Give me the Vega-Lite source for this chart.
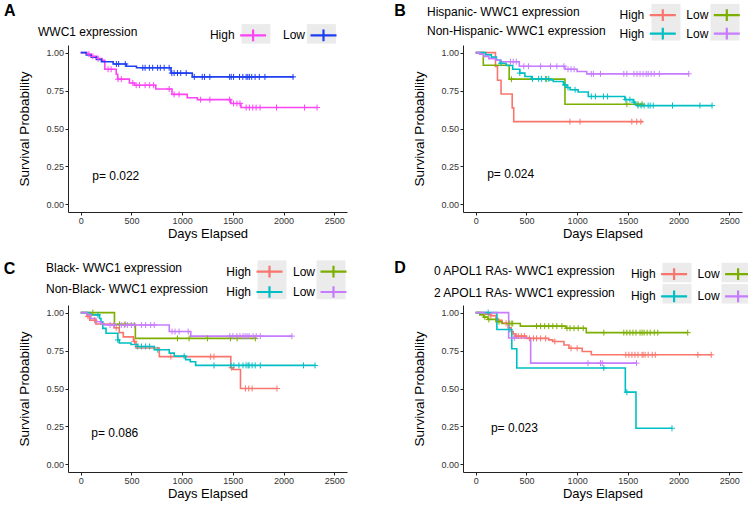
{
"$schema":"https://vega.github.io/schema/vega-lite/v6.json",
"padding":{"left":3,"top":3,"right":0,"bottom":0},
"background":"white",
"config":{
 "font":"Liberation Sans",
 "view":{"stroke":null},
 "axis":{"grid":false,"labelFontSize":9,"labelColor":"#333333","titleFontSize":13,"titleFontWeight":"normal","titleColor":"#000000","domainColor":"#222222","tickColor":"#222222","tickSize":3,"labelPadding":1.5},
 "axisX":{"titlePadding":2,"format":"d"},
 "axisY":{"titlePadding":14.5,"titleFontSize":13.5},
 "legend":{"orient":"none","direction":"horizontal","columns":2,"titleOrient":"left","titleAnchor":"start","titleBaseline":"top","titleFontSize":12,"titleFontWeight":"normal","titleColor":"#000000","titleLimit":400,"labelFontSize":12,"labelColor":"#000000","labelAlign":"right","labelOffset":-26.5,"symbolOffset":38,"symbolType":"M-2,0H2M0,-0.9V0.9","symbolSize":169,"symbolStrokeWidth":2.2,"padding":0},
 "title":{"fontSize":16,"fontWeight":"bold","anchor":"start","frame":"group","baseline":"alphabetic","color":"#000000"}
},
"datasets":{
"curves":[
{"p":"A","g":"High","t":0,"s":1},{"p":"A","g":"High","t":60,"s":0.99},{"p":"A","g":"High","t":100,"s":0.975},{"p":"A","g":"High","t":160,"s":0.96},{"p":"A","g":"High","t":210,"s":0.95},{"p":"A","g":"High","t":238,"s":0.89},{"p":"A","g":"High","t":350,"s":0.857},{"p":"A","g":"High","t":365,"s":0.825},{"p":"A","g":"High","t":480,"s":0.8},{"p":"A","g":"High","t":530,"s":0.785},{"p":"A","g":"High","t":740,"s":0.76},{"p":"A","g":"High","t":900,"s":0.725},{"p":"A","g":"High","t":1050,"s":0.703},{"p":"A","g":"High","t":1150,"s":0.69},{"p":"A","g":"High","t":1480,"s":0.665},{"p":"A","g":"High","t":1580,"s":0.638},{"p":"A","g":"High","t":2330,"s":0.638},
{"p":"A","g":"Low","t":0,"s":1},{"p":"A","g":"Low","t":55,"s":0.985},{"p":"A","g":"Low","t":105,"s":0.97},{"p":"A","g":"Low","t":155,"s":0.955},{"p":"A","g":"Low","t":205,"s":0.94},{"p":"A","g":"Low","t":320,"s":0.925},{"p":"A","g":"Low","t":450,"s":0.91},{"p":"A","g":"Low","t":550,"s":0.9},{"p":"A","g":"Low","t":890,"s":0.865},{"p":"A","g":"Low","t":1100,"s":0.84},{"p":"A","g":"Low","t":2100,"s":0.84},
{"p":"B","g":"Hispanic High","t":0,"s":1},{"p":"B","g":"Hispanic High","t":195,"s":0.909},{"p":"B","g":"Hispanic High","t":215,"s":0.818},{"p":"B","g":"Hispanic High","t":250,"s":0.727},{"p":"B","g":"Hispanic High","t":360,"s":0.636},{"p":"B","g":"Hispanic High","t":375,"s":0.545},{"p":"B","g":"Hispanic High","t":1650,"s":0.545},
{"p":"B","g":"Hispanic Low","t":0,"s":1},{"p":"B","g":"Hispanic Low","t":75,"s":0.917},{"p":"B","g":"Hispanic Low","t":330,"s":0.825},{"p":"B","g":"Hispanic Low","t":880,"s":0.66},{"p":"B","g":"Hispanic Low","t":1650,"s":0.66},
{"p":"B","g":"Non-Hispanic High","t":0,"s":1},{"p":"B","g":"Non-Hispanic High","t":100,"s":0.985},{"p":"B","g":"Non-Hispanic High","t":155,"s":0.97},{"p":"B","g":"Non-Hispanic High","t":205,"s":0.951},{"p":"B","g":"Non-Hispanic High","t":240,"s":0.93},{"p":"B","g":"Non-Hispanic High","t":300,"s":0.915},{"p":"B","g":"Non-Hispanic High","t":365,"s":0.89},{"p":"B","g":"Non-Hispanic High","t":435,"s":0.865},{"p":"B","g":"Non-Hispanic High","t":485,"s":0.843},{"p":"B","g":"Non-Hispanic High","t":550,"s":0.827},{"p":"B","g":"Non-Hispanic High","t":730,"s":0.82},{"p":"B","g":"Non-Hispanic High","t":765,"s":0.81},{"p":"B","g":"Non-Hispanic High","t":865,"s":0.787},{"p":"B","g":"Non-Hispanic High","t":900,"s":0.77},{"p":"B","g":"Non-Hispanic High","t":930,"s":0.755},{"p":"B","g":"Non-Hispanic High","t":1010,"s":0.74},{"p":"B","g":"Non-Hispanic High","t":1110,"s":0.711},{"p":"B","g":"Non-Hispanic High","t":1470,"s":0.69},{"p":"B","g":"Non-Hispanic High","t":1555,"s":0.674},{"p":"B","g":"Non-Hispanic High","t":1570,"s":0.66},{"p":"B","g":"Non-Hispanic High","t":1590,"s":0.651},{"p":"B","g":"Non-Hispanic High","t":2330,"s":0.651},
{"p":"B","g":"Non-Hispanic Low","t":0,"s":1},{"p":"B","g":"Non-Hispanic Low","t":40,"s":0.99},{"p":"B","g":"Non-Hispanic Low","t":80,"s":0.975},{"p":"B","g":"Non-Hispanic Low","t":130,"s":0.96},{"p":"B","g":"Non-Hispanic Low","t":200,"s":0.95},{"p":"B","g":"Non-Hispanic Low","t":250,"s":0.94},{"p":"B","g":"Non-Hispanic Low","t":430,"s":0.91},{"p":"B","g":"Non-Hispanic Low","t":880,"s":0.89},{"p":"B","g":"Non-Hispanic Low","t":1000,"s":0.875},{"p":"B","g":"Non-Hispanic Low","t":1095,"s":0.86},{"p":"B","g":"Non-Hispanic Low","t":2100,"s":0.86},
{"p":"C","g":"Black High","t":0,"s":1},{"p":"C","g":"Black High","t":60,"s":0.975},{"p":"C","g":"Black High","t":90,"s":0.95},{"p":"C","g":"Black High","t":150,"s":0.925},{"p":"C","g":"Black High","t":330,"s":0.9},{"p":"C","g":"Black High","t":380,"s":0.868},{"p":"C","g":"Black High","t":420,"s":0.84},{"p":"C","g":"Black High","t":520,"s":0.81},{"p":"C","g":"Black High","t":545,"s":0.767},{"p":"C","g":"Black High","t":775,"s":0.71},{"p":"C","g":"Black High","t":1480,"s":0.637},{"p":"C","g":"Black High","t":1500,"s":0.625},{"p":"C","g":"Black High","t":1575,"s":0.5},{"p":"C","g":"Black High","t":1935,"s":0.5},
{"p":"C","g":"Black Low","t":0,"s":1},{"p":"C","g":"Black Low","t":333,"s":0.923},{"p":"C","g":"Black Low","t":539,"s":0.83},{"p":"C","g":"Black Low","t":1722,"s":0.83},
{"p":"C","g":"Non-Black High","t":0,"s":1},{"p":"C","g":"Non-Black High","t":100,"s":0.985},{"p":"C","g":"Non-Black High","t":186,"s":0.961},{"p":"C","g":"Non-Black High","t":200,"s":0.94},{"p":"C","g":"Non-Black High","t":218,"s":0.896},{"p":"C","g":"Non-Black High","t":250,"s":0.864},{"p":"C","g":"Non-Black High","t":366,"s":0.82},{"p":"C","g":"Non-Black High","t":380,"s":0.8},{"p":"C","g":"Non-Black High","t":496,"s":0.79},{"p":"C","g":"Non-Black High","t":562,"s":0.777},{"p":"C","g":"Non-Black High","t":725,"s":0.755},{"p":"C","g":"Non-Black High","t":873,"s":0.733},{"p":"C","g":"Non-Black High","t":922,"s":0.713},{"p":"C","g":"Non-Black High","t":1035,"s":0.69},{"p":"C","g":"Non-Black High","t":1080,"s":0.676},{"p":"C","g":"Non-Black High","t":1133,"s":0.652},{"p":"C","g":"Non-Black High","t":2310,"s":0.652},
{"p":"C","g":"Non-Black Low","t":0,"s":1},{"p":"C","g":"Non-Black Low","t":60,"s":0.985},{"p":"C","g":"Non-Black Low","t":100,"s":0.961},{"p":"C","g":"Non-Black Low","t":150,"s":0.94},{"p":"C","g":"Non-Black Low","t":200,"s":0.927},{"p":"C","g":"Non-Black Low","t":230,"s":0.918},{"p":"C","g":"Non-Black Low","t":873,"s":0.875},{"p":"C","g":"Non-Black Low","t":1085,"s":0.845},{"p":"C","g":"Non-Black Low","t":2082,"s":0.845},
{"p":"D","g":"0 RAs High","t":0,"s":1},{"p":"D","g":"0 RAs High","t":100,"s":0.99},{"p":"D","g":"0 RAs High","t":150,"s":0.98},{"p":"D","g":"0 RAs High","t":200,"s":0.96},{"p":"D","g":"0 RAs High","t":220,"s":0.95},{"p":"D","g":"0 RAs High","t":260,"s":0.93},{"p":"D","g":"0 RAs High","t":320,"s":0.9},{"p":"D","g":"0 RAs High","t":350,"s":0.875},{"p":"D","g":"0 RAs High","t":370,"s":0.86},{"p":"D","g":"0 RAs High","t":390,"s":0.845},{"p":"D","g":"0 RAs High","t":500,"s":0.83},{"p":"D","g":"0 RAs High","t":720,"s":0.82},{"p":"D","g":"0 RAs High","t":760,"s":0.81},{"p":"D","g":"0 RAs High","t":870,"s":0.787},{"p":"D","g":"0 RAs High","t":920,"s":0.765},{"p":"D","g":"0 RAs High","t":1050,"s":0.744},{"p":"D","g":"0 RAs High","t":1140,"s":0.722},{"p":"D","g":"0 RAs High","t":2322,"s":0.722},
{"p":"D","g":"0 RAs Low","t":0,"s":1},{"p":"D","g":"0 RAs Low","t":40,"s":0.985},{"p":"D","g":"0 RAs Low","t":80,"s":0.97},{"p":"D","g":"0 RAs Low","t":120,"s":0.955},{"p":"D","g":"0 RAs Low","t":200,"s":0.94},{"p":"D","g":"0 RAs Low","t":260,"s":0.928},{"p":"D","g":"0 RAs Low","t":440,"s":0.911},{"p":"D","g":"0 RAs Low","t":890,"s":0.897},{"p":"D","g":"0 RAs Low","t":1090,"s":0.868},{"p":"D","g":"0 RAs Low","t":2090,"s":0.868},
{"p":"D","g":"2 RAs High","t":0,"s":1},{"p":"D","g":"2 RAs High","t":209,"s":0.889},{"p":"D","g":"2 RAs High","t":356,"s":0.762},{"p":"D","g":"2 RAs High","t":405,"s":0.635},{"p":"D","g":"2 RAs High","t":1475,"s":0.476},{"p":"D","g":"2 RAs High","t":1580,"s":0.238},{"p":"D","g":"2 RAs High","t":1935,"s":0.238},
{"p":"D","g":"2 RAs Low","t":0,"s":1},{"p":"D","g":"2 RAs Low","t":325,"s":0.833},{"p":"D","g":"2 RAs Low","t":542,"s":0.667},{"p":"D","g":"2 RAs Low","t":1590,"s":0.667}
],
"censors":[
{"p":"A","g":"High","t":81,"s":0.99},{"p":"A","g":"High","t":120,"s":0.975},{"p":"A","g":"High","t":173,"s":0.96},{"p":"A","g":"High","t":270,"s":0.89},{"p":"A","g":"High","t":300,"s":0.89},{"p":"A","g":"High","t":368,"s":0.825},{"p":"A","g":"High","t":400,"s":0.825},{"p":"A","g":"High","t":514,"s":0.8},{"p":"A","g":"High","t":547,"s":0.785},{"p":"A","g":"High","t":580,"s":0.785},{"p":"A","g":"High","t":635,"s":0.785},{"p":"A","g":"High","t":680,"s":0.785},{"p":"A","g":"High","t":719,"s":0.785},{"p":"A","g":"High","t":872,"s":0.76},{"p":"A","g":"High","t":921,"s":0.725},{"p":"A","g":"High","t":970,"s":0.725},{"p":"A","g":"High","t":1182,"s":0.69},{"p":"A","g":"High","t":1273,"s":0.69},{"p":"A","g":"High","t":1468,"s":0.69},{"p":"A","g":"High","t":1507,"s":0.665},{"p":"A","g":"High","t":1540,"s":0.665},{"p":"A","g":"High","t":1570,"s":0.665},{"p":"A","g":"High","t":1631,"s":0.638},{"p":"A","g":"High","t":1663,"s":0.638},{"p":"A","g":"High","t":1696,"s":0.638},{"p":"A","g":"High","t":1729,"s":0.638},{"p":"A","g":"High","t":1768,"s":0.638},{"p":"A","g":"High","t":1930,"s":0.638},{"p":"A","g":"High","t":2207,"s":0.638},{"p":"A","g":"High","t":2330,"s":0.638},
{"p":"A","g":"Low","t":352,"s":0.925},{"p":"A","g":"Low","t":374,"s":0.925},{"p":"A","g":"Low","t":440,"s":0.925},{"p":"A","g":"Low","t":612,"s":0.9},{"p":"A","g":"Low","t":635,"s":0.9},{"p":"A","g":"Low","t":677,"s":0.9},{"p":"A","g":"Low","t":710,"s":0.9},{"p":"A","g":"Low","t":758,"s":0.9},{"p":"A","g":"Low","t":785,"s":0.9},{"p":"A","g":"Low","t":823,"s":0.9},{"p":"A","g":"Low","t":872,"s":0.9},{"p":"A","g":"Low","t":898,"s":0.865},{"p":"A","g":"Low","t":921,"s":0.865},{"p":"A","g":"Low","t":954,"s":0.865},{"p":"A","g":"Low","t":986,"s":0.865},{"p":"A","g":"Low","t":1040,"s":0.865},{"p":"A","g":"Low","t":1120,"s":0.84},{"p":"A","g":"Low","t":1198,"s":0.84},{"p":"A","g":"Low","t":1221,"s":0.84},{"p":"A","g":"Low","t":1273,"s":0.84},{"p":"A","g":"Low","t":1468,"s":0.84},{"p":"A","g":"Low","t":1484,"s":0.84},{"p":"A","g":"Low","t":1507,"s":0.84},{"p":"A","g":"Low","t":1566,"s":0.84},{"p":"A","g":"Low","t":1598,"s":0.84},{"p":"A","g":"Low","t":1631,"s":0.84},{"p":"A","g":"Low","t":1647,"s":0.84},{"p":"A","g":"Low","t":1663,"s":0.84},{"p":"A","g":"Low","t":1686,"s":0.84},{"p":"A","g":"Low","t":1719,"s":0.84},{"p":"A","g":"Low","t":1761,"s":0.84},{"p":"A","g":"Low","t":1816,"s":0.84},{"p":"A","g":"Low","t":2093,"s":0.84},
{"p":"B","g":"Hispanic High","t":929,"s":0.545},{"p":"B","g":"Hispanic High","t":1028,"s":0.545},{"p":"B","g":"Hispanic High","t":1539,"s":0.545},{"p":"B","g":"Hispanic High","t":1588,"s":0.545},{"p":"B","g":"Hispanic High","t":1628,"s":0.545},
{"p":"B","g":"Hispanic Low","t":352,"s":0.825},{"p":"B","g":"Hispanic Low","t":700,"s":0.825},{"p":"B","g":"Hispanic Low","t":1490,"s":0.66},{"p":"B","g":"Hispanic Low","t":1600,"s":0.66},{"p":"B","g":"Hispanic Low","t":1640,"s":0.66},
{"p":"B","g":"Non-Hispanic High","t":250,"s":0.93},{"p":"B","g":"Non-Hispanic High","t":435,"s":0.865},{"p":"B","g":"Non-Hispanic High","t":560,"s":0.827},{"p":"B","g":"Non-Hispanic High","t":620,"s":0.827},{"p":"B","g":"Non-Hispanic High","t":650,"s":0.827},{"p":"B","g":"Non-Hispanic High","t":690,"s":0.827},{"p":"B","g":"Non-Hispanic High","t":720,"s":0.827},{"p":"B","g":"Non-Hispanic High","t":880,"s":0.787},{"p":"B","g":"Non-Hispanic High","t":910,"s":0.77},{"p":"B","g":"Non-Hispanic High","t":980,"s":0.755},{"p":"B","g":"Non-Hispanic High","t":1140,"s":0.711},{"p":"B","g":"Non-Hispanic High","t":1180,"s":0.711},{"p":"B","g":"Non-Hispanic High","t":1260,"s":0.711},{"p":"B","g":"Non-Hispanic High","t":1300,"s":0.711},{"p":"B","g":"Non-Hispanic High","t":1480,"s":0.69},{"p":"B","g":"Non-Hispanic High","t":1520,"s":0.69},{"p":"B","g":"Non-Hispanic High","t":1560,"s":0.674},{"p":"B","g":"Non-Hispanic High","t":1600,"s":0.651},{"p":"B","g":"Non-Hispanic High","t":1630,"s":0.651},{"p":"B","g":"Non-Hispanic High","t":1660,"s":0.651},{"p":"B","g":"Non-Hispanic High","t":1700,"s":0.651},{"p":"B","g":"Non-Hispanic High","t":1720,"s":0.651},{"p":"B","g":"Non-Hispanic High","t":1750,"s":0.651},{"p":"B","g":"Non-Hispanic High","t":1940,"s":0.651},{"p":"B","g":"Non-Hispanic High","t":2210,"s":0.651},{"p":"B","g":"Non-Hispanic High","t":2330,"s":0.651},
{"p":"B","g":"Non-Hispanic Low","t":343,"s":0.94},{"p":"B","g":"Non-Hispanic Low","t":370,"s":0.94},{"p":"B","g":"Non-Hispanic Low","t":400,"s":0.94},{"p":"B","g":"Non-Hispanic Low","t":474,"s":0.91},{"p":"B","g":"Non-Hispanic Low","t":520,"s":0.91},{"p":"B","g":"Non-Hispanic Low","t":640,"s":0.91},{"p":"B","g":"Non-Hispanic Low","t":738,"s":0.91},{"p":"B","g":"Non-Hispanic Low","t":800,"s":0.91},{"p":"B","g":"Non-Hispanic Low","t":870,"s":0.91},{"p":"B","g":"Non-Hispanic Low","t":910,"s":0.89},{"p":"B","g":"Non-Hispanic Low","t":940,"s":0.89},{"p":"B","g":"Non-Hispanic Low","t":970,"s":0.89},{"p":"B","g":"Non-Hispanic Low","t":1140,"s":0.86},{"p":"B","g":"Non-Hispanic Low","t":1160,"s":0.86},{"p":"B","g":"Non-Hispanic Low","t":1230,"s":0.86},{"p":"B","g":"Non-Hispanic Low","t":1460,"s":0.86},{"p":"B","g":"Non-Hispanic Low","t":1490,"s":0.86},{"p":"B","g":"Non-Hispanic Low","t":1560,"s":0.86},{"p":"B","g":"Non-Hispanic Low","t":1590,"s":0.86},{"p":"B","g":"Non-Hispanic Low","t":1620,"s":0.86},{"p":"B","g":"Non-Hispanic Low","t":1650,"s":0.86},{"p":"B","g":"Non-Hispanic Low","t":1680,"s":0.86},{"p":"B","g":"Non-Hispanic Low","t":1700,"s":0.86},{"p":"B","g":"Non-Hispanic Low","t":1730,"s":0.86},{"p":"B","g":"Non-Hispanic Low","t":1760,"s":0.86},{"p":"B","g":"Non-Hispanic Low","t":1810,"s":0.86},{"p":"B","g":"Non-Hispanic Low","t":2100,"s":0.86},
{"p":"C","g":"Black High","t":72,"s":0.975},{"p":"C","g":"Black High","t":137,"s":0.95},{"p":"C","g":"Black High","t":350,"s":0.9},{"p":"C","g":"Black High","t":530,"s":0.81},{"p":"C","g":"Black High","t":889,"s":0.71},{"p":"C","g":"Black High","t":1281,"s":0.71},{"p":"C","g":"Black High","t":1314,"s":0.71},{"p":"C","g":"Black High","t":1487,"s":0.637},{"p":"C","g":"Black High","t":1624,"s":0.5},{"p":"C","g":"Black High","t":1657,"s":0.5},{"p":"C","g":"Black High","t":1690,"s":0.5},{"p":"C","g":"Black High","t":1935,"s":0.5},
{"p":"C","g":"Black Low","t":120,"s":1},{"p":"C","g":"Black Low","t":382,"s":0.923},{"p":"C","g":"Black Low","t":438,"s":0.923},{"p":"C","g":"Black Low","t":954,"s":0.83},{"p":"C","g":"Black Low","t":1069,"s":0.83},{"p":"C","g":"Black Low","t":1249,"s":0.83},{"p":"C","g":"Black Low","t":1477,"s":0.83},{"p":"C","g":"Black Low","t":1542,"s":0.83},{"p":"C","g":"Black Low","t":1722,"s":0.83},
{"p":"C","g":"Non-Black High","t":170,"s":0.985},{"p":"C","g":"Non-Black High","t":366,"s":0.82},{"p":"C","g":"Non-Black High","t":562,"s":0.777},{"p":"C","g":"Non-Black High","t":600,"s":0.777},{"p":"C","g":"Non-Black High","t":640,"s":0.777},{"p":"C","g":"Non-Black High","t":680,"s":0.777},{"p":"C","g":"Non-Black High","t":760,"s":0.755},{"p":"C","g":"Non-Black High","t":1020,"s":0.713},{"p":"C","g":"Non-Black High","t":1314,"s":0.652},{"p":"C","g":"Non-Black High","t":1480,"s":0.652},{"p":"C","g":"Non-Black High","t":1510,"s":0.652},{"p":"C","g":"Non-Black High","t":1560,"s":0.652},{"p":"C","g":"Non-Black High","t":1600,"s":0.652},{"p":"C","g":"Non-Black High","t":1630,"s":0.652},{"p":"C","g":"Non-Black High","t":1650,"s":0.652},{"p":"C","g":"Non-Black High","t":1660,"s":0.652},{"p":"C","g":"Non-Black High","t":1690,"s":0.652},{"p":"C","g":"Non-Black High","t":1720,"s":0.652},{"p":"C","g":"Non-Black High","t":1771,"s":0.652},{"p":"C","g":"Non-Black High","t":2196,"s":0.652},{"p":"C","g":"Non-Black High","t":2310,"s":0.652},
{"p":"C","g":"Non-Black Low","t":290,"s":0.918},{"p":"C","g":"Non-Black Low","t":330,"s":0.918},{"p":"C","g":"Non-Black Low","t":400,"s":0.918},{"p":"C","g":"Non-Black Low","t":430,"s":0.918},{"p":"C","g":"Non-Black Low","t":460,"s":0.918},{"p":"C","g":"Non-Black Low","t":500,"s":0.918},{"p":"C","g":"Non-Black Low","t":530,"s":0.918},{"p":"C","g":"Non-Black Low","t":600,"s":0.918},{"p":"C","g":"Non-Black Low","t":640,"s":0.918},{"p":"C","g":"Non-Black Low","t":690,"s":0.918},{"p":"C","g":"Non-Black Low","t":725,"s":0.918},{"p":"C","g":"Non-Black Low","t":900,"s":0.875},{"p":"C","g":"Non-Black Low","t":930,"s":0.875},{"p":"C","g":"Non-Black Low","t":970,"s":0.875},{"p":"C","g":"Non-Black Low","t":1060,"s":0.875},{"p":"C","g":"Non-Black Low","t":1470,"s":0.845},{"p":"C","g":"Non-Black Low","t":1500,"s":0.845},{"p":"C","g":"Non-Black Low","t":1540,"s":0.845},{"p":"C","g":"Non-Black Low","t":1570,"s":0.845},{"p":"C","g":"Non-Black Low","t":1600,"s":0.845},{"p":"C","g":"Non-Black Low","t":1620,"s":0.845},{"p":"C","g":"Non-Black Low","t":1640,"s":0.845},{"p":"C","g":"Non-Black Low","t":1660,"s":0.845},{"p":"C","g":"Non-Black Low","t":1700,"s":0.845},{"p":"C","g":"Non-Black Low","t":1730,"s":0.845},{"p":"C","g":"Non-Black Low","t":1770,"s":0.845},{"p":"C","g":"Non-Black Low","t":2082,"s":0.845},
{"p":"D","g":"0 RAs High","t":150,"s":0.98},{"p":"D","g":"0 RAs High","t":300,"s":0.93},{"p":"D","g":"0 RAs High","t":400,"s":0.845},{"p":"D","g":"0 RAs High","t":420,"s":0.845},{"p":"D","g":"0 RAs High","t":450,"s":0.845},{"p":"D","g":"0 RAs High","t":480,"s":0.845},{"p":"D","g":"0 RAs High","t":530,"s":0.83},{"p":"D","g":"0 RAs High","t":570,"s":0.83},{"p":"D","g":"0 RAs High","t":600,"s":0.83},{"p":"D","g":"0 RAs High","t":640,"s":0.83},{"p":"D","g":"0 RAs High","t":690,"s":0.83},{"p":"D","g":"0 RAs High","t":780,"s":0.81},{"p":"D","g":"0 RAs High","t":940,"s":0.765},{"p":"D","g":"0 RAs High","t":1000,"s":0.765},{"p":"D","g":"0 RAs High","t":1480,"s":0.722},{"p":"D","g":"0 RAs High","t":1510,"s":0.722},{"p":"D","g":"0 RAs High","t":1540,"s":0.722},{"p":"D","g":"0 RAs High","t":1570,"s":0.722},{"p":"D","g":"0 RAs High","t":1600,"s":0.722},{"p":"D","g":"0 RAs High","t":1640,"s":0.722},{"p":"D","g":"0 RAs High","t":1650,"s":0.722},{"p":"D","g":"0 RAs High","t":1670,"s":0.722},{"p":"D","g":"0 RAs High","t":1700,"s":0.722},{"p":"D","g":"0 RAs High","t":1740,"s":0.722},{"p":"D","g":"0 RAs High","t":1770,"s":0.722},{"p":"D","g":"0 RAs High","t":2190,"s":0.722},{"p":"D","g":"0 RAs High","t":2322,"s":0.722},
{"p":"D","g":"0 RAs Low","t":90,"s":0.97},{"p":"D","g":"0 RAs Low","t":130,"s":0.955},{"p":"D","g":"0 RAs Low","t":230,"s":0.94},{"p":"D","g":"0 RAs Low","t":330,"s":0.928},{"p":"D","g":"0 RAs Low","t":350,"s":0.928},{"p":"D","g":"0 RAs Low","t":365,"s":0.928},{"p":"D","g":"0 RAs Low","t":600,"s":0.911},{"p":"D","g":"0 RAs Low","t":640,"s":0.911},{"p":"D","g":"0 RAs Low","t":680,"s":0.911},{"p":"D","g":"0 RAs Low","t":720,"s":0.911},{"p":"D","g":"0 RAs Low","t":760,"s":0.911},{"p":"D","g":"0 RAs Low","t":800,"s":0.911},{"p":"D","g":"0 RAs Low","t":850,"s":0.911},{"p":"D","g":"0 RAs Low","t":900,"s":0.897},{"p":"D","g":"0 RAs Low","t":930,"s":0.897},{"p":"D","g":"0 RAs Low","t":970,"s":0.897},{"p":"D","g":"0 RAs Low","t":1010,"s":0.897},{"p":"D","g":"0 RAs Low","t":1060,"s":0.897},{"p":"D","g":"0 RAs Low","t":1263,"s":0.868},{"p":"D","g":"0 RAs Low","t":1460,"s":0.868},{"p":"D","g":"0 RAs Low","t":1490,"s":0.868},{"p":"D","g":"0 RAs Low","t":1520,"s":0.868},{"p":"D","g":"0 RAs Low","t":1550,"s":0.868},{"p":"D","g":"0 RAs Low","t":1580,"s":0.868},{"p":"D","g":"0 RAs Low","t":1620,"s":0.868},{"p":"D","g":"0 RAs Low","t":1640,"s":0.868},{"p":"D","g":"0 RAs Low","t":1660,"s":0.868},{"p":"D","g":"0 RAs Low","t":1690,"s":0.868},{"p":"D","g":"0 RAs Low","t":1720,"s":0.868},{"p":"D","g":"0 RAs Low","t":1760,"s":0.868},{"p":"D","g":"0 RAs Low","t":1795,"s":0.868},{"p":"D","g":"0 RAs Low","t":2090,"s":0.868},
{"p":"D","g":"2 RAs High","t":123,"s":1},{"p":"D","g":"2 RAs High","t":330,"s":0.889},{"p":"D","g":"2 RAs High","t":1263,"s":0.635},{"p":"D","g":"2 RAs High","t":1490,"s":0.476},{"p":"D","g":"2 RAs High","t":1935,"s":0.238},
{"p":"D","g":"2 RAs Low","t":380,"s":0.833},{"p":"D","g":"2 RAs Low","t":1107,"s":0.667},{"p":"D","g":"2 RAs Low","t":1230,"s":0.667},{"p":"D","g":"2 RAs Low","t":1247,"s":0.667},{"p":"D","g":"2 RAs Low","t":1585,"s":0.667}
],
"pvals":[{"p":"A","label":"p= 0.022"},{"p":"B","label":"p= 0.024"},{"p":"C","label":"p= 0.086"},{"p":"D","label":"p= 0.023"}]
},
"columns":2,
"spacing":{"row":93,"column":116},
"bounds":"flush",
"resolve":{"scale":{"stroke":"independent","fill":"independent"},"legend":{"stroke":"independent","fill":"independent"}},
"concat":[
{"width":279,"height":167,"title":{"text":"A","dx":-64,"offset":8},
 "layer":[
 {"data":{"name":"censors"},"transform":[{"filter":"datum.p=='A'"}],"mark":{"type":"point","shape":"M-1,0H1M0,-1V1","size":36,"strokeWidth":0,"filled":true,"opacity":1},
  "encoding":{"x":{"field":"t","type":"quantitative","scale":{"domain":[-125,2625],"nice":false,"zero":false},"axis":{"values":[0,500,1000,1500,2000,2500],"title":"Days Elapsed"}},
   "y":{"field":"s","type":"quantitative","scale":{"domain":[-0.05,1.05],"nice":false,"zero":false},"axis":{"values":[0,0.25,0.5,0.75,1],"format":".2f","title":"Survival Probability"}},
   "fill":{"field":"g","type":"nominal","scale":{"range":["#EBEBEB"]},"legend":{"title":null,"legendX":143.5,"legendY":-18,"columnPadding":6.4,"labelExpr":"''","symbolType":"M-2.23,-1.5H2.23V1.5H-2.23Z","symbolStrokeColor":"transparent","symbolStrokeWidth":0}}}},
 {"data":{"name":"curves"},"transform":[{"filter":"datum.p=='A'"}],"mark":{"type":"line","interpolate":"step-after","strokeWidth":1.6},
  "encoding":{"x":{"field":"t","type":"quantitative","scale":{"domain":[-125,2625],"nice":false,"zero":false},"axis":{"values":[0,500,1000,1500,2000,2500],"title":"Days Elapsed"}},
   "y":{"field":"s","type":"quantitative","scale":{"domain":[-0.05,1.05],"nice":false,"zero":false},"axis":{"values":[0,0.25,0.5,0.75,1],"format":".2f","title":"Survival Probability"}},
   "stroke":{"field":"g","type":"nominal","scale":{"domain":["High","Low"],"range":["#FB45F5","#1F3FF2"]},"legend":{"title":"WWC1 expression","legendX":-30,"legendY":-18,"titlePadding":69.1,"columnPadding":6.4,"symbolStrokeWidth":2.2,"labelExpr":"indexof(datum.label,'High')>=0 ? 'High' : 'Low'"}}}},
 {"data":{"name":"censors"},"transform":[{"filter":"datum.p=='A'"}],"mark":{"type":"point","shape":"M-1,0H1M0,-1V1","size":36,"strokeWidth":1,"filled":false,"opacity":1},
  "encoding":{"x":{"field":"t","type":"quantitative"},"y":{"field":"s","type":"quantitative"},"stroke":{"field":"g","type":"nominal"}}},
 {"data":{"name":"pvals"},"transform":[{"filter":"datum.p=='A'"}],"mark":{"type":"text","align":"left","baseline":"middle","fontSize":12,"color":"#000000"},
  "encoding":{"x":{"datum":114,"type":"quantitative"},"y":{"datum":0.19,"type":"quantitative"},"text":{"field":"label"}}}
 ]},
{"width":279,"height":167,"title":{"text":"B","dx":-68.7,"offset":-12.3},
 "layer":[
 {"data":{"name":"censors"},"transform":[{"filter":"datum.p=='B'"}],"mark":{"type":"point","shape":"M-1,0H1M0,-1V1","size":36,"strokeWidth":0,"filled":true,"opacity":1},
  "encoding":{"x":{"field":"t","type":"quantitative","scale":{"domain":[-125,2625],"nice":false,"zero":false},"axis":{"values":[0,500,1000,1500,2000,2500],"title":"Days Elapsed"}},
   "y":{"field":"s","type":"quantitative","scale":{"domain":[-0.05,1.05],"nice":false,"zero":false},"axis":{"values":[0,0.25,0.5,0.75,1],"format":".2f","title":"Survival Probability"}},
   "fill":{"field":"g","type":"nominal","scale":{"range":["#EBEBEB"]},"legend":{"title":null,"legendX":158.5,"legendY":-38.3,"rowPadding":-3.4,"columnPadding":0,"labelExpr":"''","symbolType":"M-2.23,-1.5H2.23V1.5H-2.23Z","symbolStrokeColor":"transparent","symbolStrokeWidth":0}}}},
 {"data":{"name":"curves"},"transform":[{"filter":"datum.p=='B'"}],"mark":{"type":"line","interpolate":"step-after","strokeWidth":1.6},
  "encoding":{"x":{"field":"t","type":"quantitative","scale":{"domain":[-125,2625],"nice":false,"zero":false},"axis":{"values":[0,500,1000,1500,2000,2500],"title":"Days Elapsed"}},
   "y":{"field":"s","type":"quantitative","scale":{"domain":[-0.05,1.05],"nice":false,"zero":false},"axis":{"values":[0,0.25,0.5,0.75,1],"format":".2f","title":"Survival Probability"}},
   "stroke":{"field":"g","type":"nominal","scale":{"domain":["Hispanic High","Hispanic Low","Non-Hispanic High","Non-Hispanic Low"],"range":["#F8766D","#7CAE00","#00BFC4","#C77CFF"]},"legend":{"title":["Hispanic- WWC1 expression","Non-Hispanic- WWC1 expression"],"titleLineHeight":19.3,"rowPadding":-3.4,"legendX":-36,"legendY":-38.3,"titlePadding":10.8,"columnPadding":0,"symbolStrokeWidth":2.2,"labelExpr":"indexof(datum.label,'High')>=0 ? 'High' : 'Low'"}}}},
 {"data":{"name":"censors"},"transform":[{"filter":"datum.p=='B'"}],"mark":{"type":"point","shape":"M-1,0H1M0,-1V1","size":36,"strokeWidth":1,"filled":false,"opacity":1},
  "encoding":{"x":{"field":"t","type":"quantitative"},"y":{"field":"s","type":"quantitative"},"stroke":{"field":"g","type":"nominal"}}},
 {"data":{"name":"pvals"},"transform":[{"filter":"datum.p=='B'"}],"mark":{"type":"text","align":"left","baseline":"middle","fontSize":12,"color":"#000000"},
  "encoding":{"x":{"datum":113,"type":"quantitative"},"y":{"datum":0.2,"type":"quantitative"},"text":{"field":"label"}}}
 ]},
{"width":279,"height":167,"title":{"text":"C","dx":-64.3,"offset":-13.7},
 "layer":[
 {"data":{"name":"censors"},"transform":[{"filter":"datum.p=='C'"}],"mark":{"type":"point","shape":"M-1,0H1M0,-1V1","size":36,"strokeWidth":0,"filled":true,"opacity":1},
  "encoding":{"x":{"field":"t","type":"quantitative","scale":{"domain":[-125,2625],"nice":false,"zero":false},"axis":{"values":[0,500,1000,1500,2000,2500],"title":"Days Elapsed"}},
   "y":{"field":"s","type":"quantitative","scale":{"domain":[-0.05,1.05],"nice":false,"zero":false},"axis":{"values":[0,0.25,0.5,0.75,1],"format":".2f","title":"Survival Probability"}},
   "fill":{"field":"g","type":"nominal","scale":{"range":["#EBEBEB"]},"legend":{"title":null,"legendX":159.5,"legendY":-41.7,"rowPadding":-1.3,"columnPadding":0,"labelExpr":"''","symbolType":"M-2.23,-1.5H2.23V1.5H-2.23Z","symbolStrokeColor":"transparent","symbolStrokeWidth":0}}}},
 {"data":{"name":"curves"},"transform":[{"filter":"datum.p=='C'"}],"mark":{"type":"line","interpolate":"step-after","strokeWidth":1.6},
  "encoding":{"x":{"field":"t","type":"quantitative","scale":{"domain":[-125,2625],"nice":false,"zero":false},"axis":{"values":[0,500,1000,1500,2000,2500],"title":"Days Elapsed"}},
   "y":{"field":"s","type":"quantitative","scale":{"domain":[-0.05,1.05],"nice":false,"zero":false},"axis":{"values":[0,0.25,0.5,0.75,1],"format":".2f","title":"Survival Probability"}},
   "stroke":{"field":"g","type":"nominal","scale":{"domain":["Black High","Black Low","Non-Black High","Non-Black Low"],"range":["#F8766D","#7CAE00","#00BFC4","#C77CFF"]},"legend":{"title":["Black- WWC1 expression","Non-Black- WWC1 expression"],"titleLineHeight":20.7,"rowPadding":-1.3,"legendX":-22,"legendY":-41.7,"titlePadding":14.5,"columnPadding":0,"symbolStrokeWidth":2.2,"labelExpr":"indexof(datum.label,'High')>=0 ? 'High' : 'Low'"}}}},
 {"data":{"name":"censors"},"transform":[{"filter":"datum.p=='C'"}],"mark":{"type":"point","shape":"M-1,0H1M0,-1V1","size":36,"strokeWidth":1,"filled":false,"opacity":1},
  "encoding":{"x":{"field":"t","type":"quantitative"},"y":{"field":"s","type":"quantitative"},"stroke":{"field":"g","type":"nominal"}}},
 {"data":{"name":"pvals"},"transform":[{"filter":"datum.p=='C'"}],"mark":{"type":"text","align":"left","baseline":"middle","fontSize":12,"color":"#000000"},
  "encoding":{"x":{"datum":104,"type":"quantitative"},"y":{"datum":0.205,"type":"quantitative"},"text":{"field":"label"}}}
 ]},
{"width":279,"height":167,"title":{"text":"D","dx":-68.7,"offset":-9.8},
 "layer":[
 {"data":{"name":"censors"},"transform":[{"filter":"datum.p=='D'"}],"mark":{"type":"point","shape":"M-1,0H1M0,-1V1","size":36,"strokeWidth":0,"filled":true,"opacity":1},
  "encoding":{"x":{"field":"t","type":"quantitative","scale":{"domain":[-125,2625],"nice":false,"zero":false},"axis":{"values":[0,500,1000,1500,2000,2500],"title":"Days Elapsed"}},
   "y":{"field":"s","type":"quantitative","scale":{"domain":[-0.05,1.05],"nice":false,"zero":false},"axis":{"values":[0,0.25,0.5,0.75,1],"format":".2f","title":"Survival Probability"}},
   "fill":{"field":"g","type":"nominal","scale":{"range":["#EBEBEB"]},"legend":{"title":null,"legendX":169.5,"legendY":-39.3,"rowPadding":0.6,"columnPadding":0,"labelExpr":"''","symbolType":"M-2.23,-1.5H2.23V1.5H-2.23Z","symbolStrokeColor":"transparent","symbolStrokeWidth":0}}}},
 {"data":{"name":"curves"},"transform":[{"filter":"datum.p=='D'"}],"mark":{"type":"line","interpolate":"step-after","strokeWidth":1.6},
  "encoding":{"x":{"field":"t","type":"quantitative","scale":{"domain":[-125,2625],"nice":false,"zero":false},"axis":{"values":[0,500,1000,1500,2000,2500],"title":"Days Elapsed"}},
   "y":{"field":"s","type":"quantitative","scale":{"domain":[-0.05,1.05],"nice":false,"zero":false},"axis":{"values":[0,0.25,0.5,0.75,1],"format":".2f","title":"Survival Probability"}},
   "stroke":{"field":"g","type":"nominal","scale":{"domain":["0 RAs High","0 RAs Low","2 RAs High","2 RAs Low"],"range":["#F8766D","#7CAE00","#00BFC4","#C77CFF"]},"legend":{"title":["0 APOL1 RAs- WWC1 expression","2 APOL1 RAs- WWC1 expression"],"titleLineHeight":22.6,"rowPadding":0.6,"legendX":-29,"legendY":-39.3,"titlePadding":12.1,"columnPadding":0,"symbolStrokeWidth":2.2,"labelExpr":"indexof(datum.label,'High')>=0 ? 'High' : 'Low'"}}}},
 {"data":{"name":"censors"},"transform":[{"filter":"datum.p=='D'"}],"mark":{"type":"point","shape":"M-1,0H1M0,-1V1","size":36,"strokeWidth":1,"filled":false,"opacity":1},
  "encoding":{"x":{"field":"t","type":"quantitative"},"y":{"field":"s","type":"quantitative"},"stroke":{"field":"g","type":"nominal"}}},
 {"data":{"name":"pvals"},"transform":[{"filter":"datum.p=='D'"}],"mark":{"type":"text","align":"left","baseline":"middle","fontSize":12,"color":"#000000"},
  "encoding":{"x":{"datum":150,"type":"quantitative"},"y":{"datum":0.24,"type":"quantitative"},"text":{"field":"label"}}}
 ]}
]
}
